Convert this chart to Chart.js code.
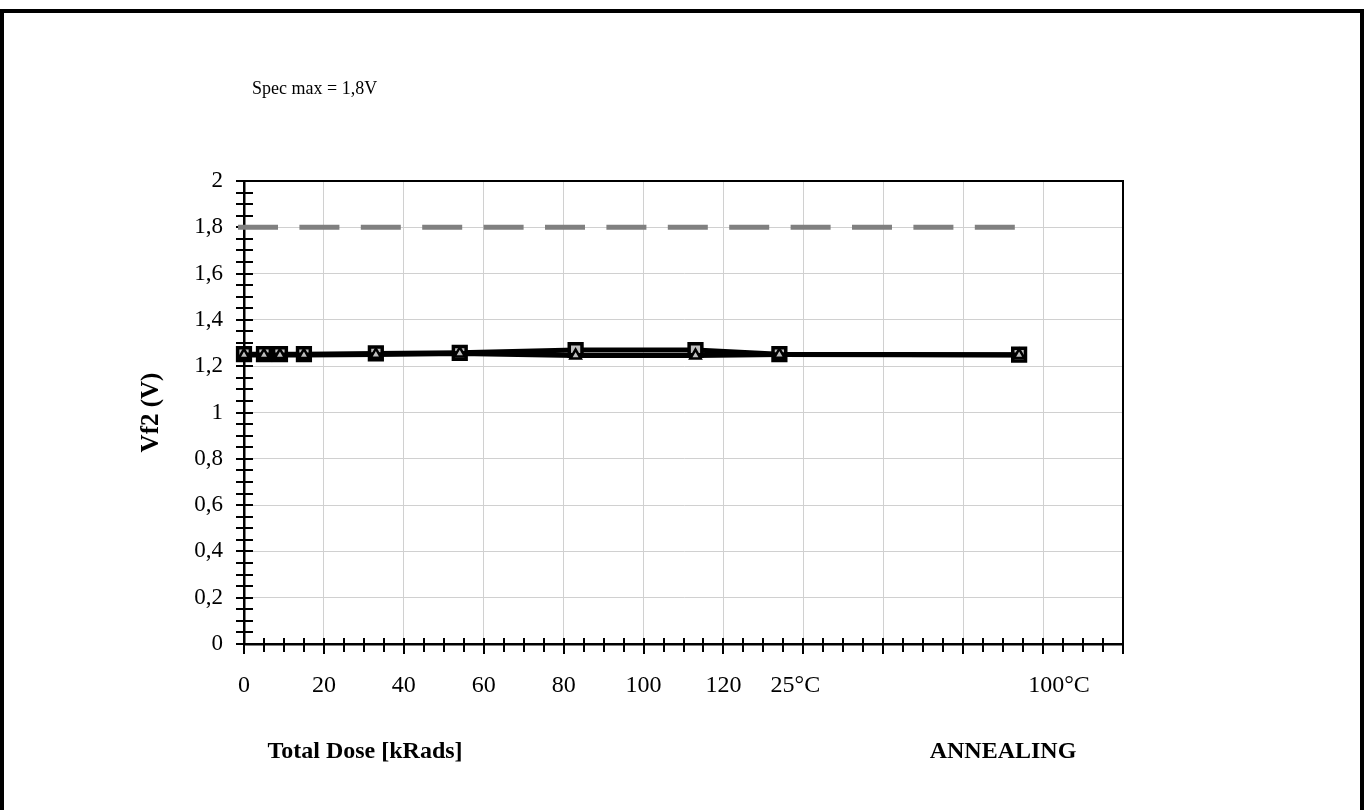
<!DOCTYPE html>
<html>
<head>
<meta charset="utf-8">
<script src="https://cdn.jsdelivr.net/npm/chart.js@4"></script>
<style>
  html, body { margin: 0; padding: 0; background: #fff; }
  #wrap { width: 1364px; height: 810px; }
</style>
</head>
<body>
<div id="wrap"><canvas id="myChart" width="1364" height="810"></canvas></div>
<script>
/* global Chart */

// data
const doses = [0, 5, 9, 15, 33, 54, 83, 113, 134, 194];
const vf2Squares = [1.252, 1.252, 1.252, 1.252, 1.255, 1.258, 1.27, 1.27, 1.252, 1.25];
const vf2Triangles = [1.248, 1.248, 1.248, 1.248, 1.25, 1.255, 1.246, 1.246, 1.25, 1.248];
const specMax = 1.8;
const specRange = [-1.5, 196.5];
const xLabelValues = [0, 20, 40, 60, 80, 100, 120, 138, 204];
const xLabelTexts = ['0', '20', '40', '60', '80', '100', '120', '25°C', '100°C'];

const FONT = '"Liberation Serif", "Times New Roman", serif';

function pts(xs, ys) {
  return xs.map((x, i) => ({ x: x, y: ys[i] }));
}

/* Decorations: frame, crossing ticks, labels, titles */
const decor = {
  id: 'decor',
  beforeDraw(chart) {
    const c = chart.ctx;
    c.save();
    c.fillStyle = '#fff';
    c.fillRect(0, 0, chart.width, chart.height);
    c.strokeStyle = '#000';
    c.lineWidth = 4;
    c.strokeRect(2, 11, chart.width - 4, chart.height + 20);
    c.restore();
  },
  beforeDatasetsDraw(chart) {
    const c = chart.ctx;
    const a = chart.chartArea;
    const xs = chart.scales.x;
    const ys = chart.scales.y;
    c.save();
    c.strokeStyle = '#000';
    c.lineWidth = 2;
    // top and right plot border
    c.beginPath();
    c.moveTo(a.left, a.top);
    c.lineTo(a.right, a.top);
    c.lineTo(a.right, a.bottom);
    c.stroke();
    // y minor ticks
    c.beginPath();
    for (let i = 0; i <= 40; i++) {
      const y = Math.round(ys.getPixelForValue(i * 0.05));
      c.moveTo(a.left - 8, y);
      c.lineTo(a.left + 9, y);
    }
    // x ticks
    for (let v = 0; v <= 220; v += 5) {
      const x = Math.round(xs.getPixelForValue(v));
      c.moveTo(x, a.bottom - 6);
      c.lineTo(x, a.bottom + (v % 20 === 0 ? 10 : 8));
    }
    c.stroke();
    c.restore();
  },
  afterDraw(chart) {
    const c = chart.ctx;
    const a = chart.chartArea;
    const xs = chart.scales.x;
    c.save();
    c.fillStyle = '#000';
    c.textBaseline = 'middle';

    c.font = '18px ' + FONT;
    c.textAlign = 'left';
    c.fillText('Spec max = 1,8V', 252, 89);

    c.font = '24px ' + FONT;
    c.textAlign = 'center';
    xLabelValues.forEach((v, i) => {
      c.fillText(xLabelTexts[i], xs.getPixelForValue(v), 686);
    });

    c.font = 'bold 24px ' + FONT;
    c.fillText('Total Dose [kRads]', 365, 752);
    c.fillText('ANNEALING', 1003, 752);

    c.font = 'bold 25px ' + FONT;
    c.translate(152, (a.top + a.bottom) / 2);
    c.rotate(-Math.PI / 2);
    c.fillText('Vf2 (V)', 0, 0);
    c.restore();
  }
};

const ctx = document.getElementById('myChart').getContext('2d');

const chart = new Chart(ctx, {
  type: 'scatter',
  data: {
    datasets: [{
      label: 'Triangles',
      data: pts(doses, vf2Triangles),
      showLine: true,
      clip: false,
      borderColor: '#000',
      borderWidth: 5,
      pointStyle: 'triangle',
      pointRadius: 6,
      pointBackgroundColor: '#bfbfbf',
      pointBorderColor: '#000',
      pointBorderWidth: 2.5,
    },
    {
      label: 'Squares',
      data: pts(doses, vf2Squares),
      showLine: true,
      clip: false,
      borderColor: '#000',
      borderWidth: 5,
      pointStyle: 'rect',
      pointRadius: 9,
      pointBackgroundColor: '#bfbfbf',
      pointBorderColor: '#000',
      pointBorderWidth: 3.5,
    },
    {
      label: 'Spec max',
      data: pts(specRange, [specMax, specMax]),
      showLine: true,
      clip: false,
      borderColor: '#808080',
      borderWidth: 5,
      borderDash: [40, 21.4],
      pointRadius: 0,
    }]
  },
  options: {
    responsive: false,
    animation: false,
    devicePixelRatio: 1,
    layout: { padding: { top: 181, right: 241, left: 0, bottom: 0 } },
    plugins: {
      legend: { display: false },
      tooltip: { enabled: false },
    },
    scales: {
      x: {
        type: 'linear',
        min: 0,
        max: 220,
        afterFit(scale) { scale.height = 166; },
        ticks: { display: false, stepSize: 20 },
        grid: { color: '#d0d0d0', lineWidth: 1, drawTicks: false },
        border: { color: '#000', width: 2.5 },
      },
      y: {
        min: 0,
        max: 2,
        afterFit(scale) { scale.width = 244; },
        ticks: {
          stepSize: 0.2,
          padding: 21,
          color: '#000',
          font: { family: FONT, size: 23 },
          callback: v => String(Math.round(v * 10) / 10).replace('.', ','),
        },
        grid: { color: '#d0d0d0', lineWidth: 1, drawTicks: false },
        border: { color: '#000', width: 2.5 },
      }
    }
  },
  plugins: [decor],
});
console.log(chart);
</script>
</body>
</html>
